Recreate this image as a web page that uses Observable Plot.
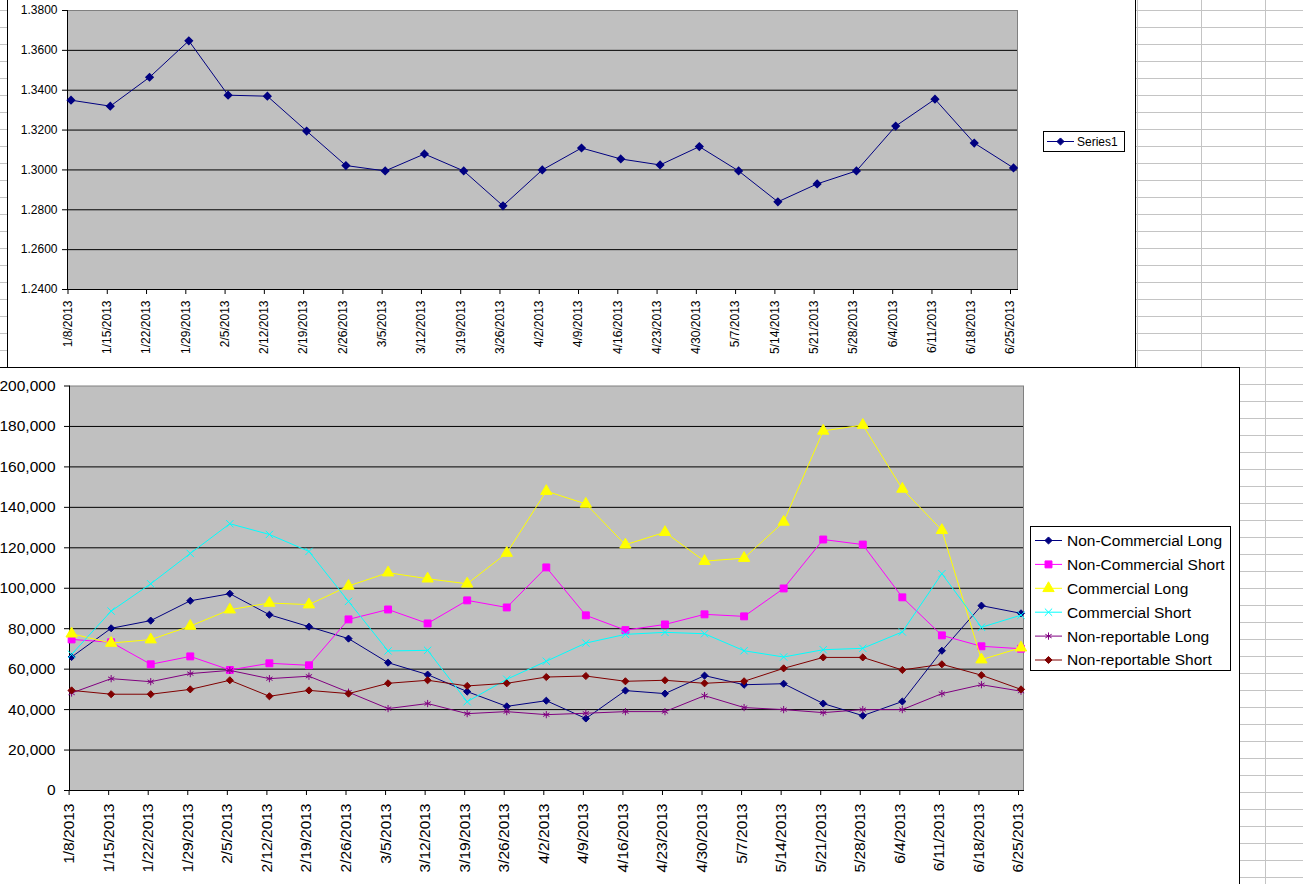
<!DOCTYPE html>
<html>
<head>
<meta charset="utf-8">
<script src="https://cdn.jsdelivr.net/npm/d3@7"></script>
<script src="https://cdn.jsdelivr.net/npm/@observablehq/plot@0.6"></script>
<style>
html,body{margin:0;padding:0;background:#fff;}
#page{position:relative;width:1303px;height:884px;overflow:hidden;font-family:"Liberation Sans",Arial,sans-serif;
  background-image:linear-gradient(to bottom,#c4c4c4 1px,transparent 1px);background-size:100% 17px;background-position:0 10px;}
.vline{position:absolute;top:0;height:884px;width:1px;background:#c4c4c4;}
.box{position:absolute;background:#fff;border:1px solid #000;box-sizing:border-box;}
.plotwrap{position:absolute;}
.legend{position:absolute;background:#fff;border:1px solid #000;box-sizing:border-box;}
</style>
</head>
<body>
<div id="page">
  <div class="vline" style="left:1137px"></div>
  <div class="vline" style="left:1201px"></div>
  <div class="vline" style="left:1265px"></div>
  <div class="box" style="left:7px;top:-1px;width:1129px;height:369px"></div>
  <div class="plotwrap" id="topPlot" style="left:0;top:0"></div>
  <div class="legend" id="topLegend" style="left:1043px;top:131px;width:82px;height:21px"></div>
  <div class="box" style="left:-1px;top:367px;width:1241px;height:540px"></div>
  <div class="plotwrap" id="bottomPlot" style="left:0;top:367px"></div>
  <div class="legend" id="bottomLegend" style="left:1030px;top:526px;width:201px;height:145px"></div>
</div>
<script>
// ---------- data ----------
const dates = ["1/8/2013","1/15/2013","1/22/2013","1/29/2013","2/5/2013","2/12/2013","2/19/2013","2/26/2013",
  "3/5/2013","3/12/2013","3/19/2013","3/26/2013","4/2/2013","4/9/2013","4/16/2013","4/23/2013","4/30/2013",
  "5/7/2013","5/14/2013","5/21/2013","5/28/2013","6/4/2013","6/11/2013","6/18/2013","6/25/2013"];

const series1 = [1.3350,1.3320,1.3465,1.3648,1.3375,1.3370,1.3195,1.3022,1.2995,1.3080,1.2995,1.2820,1.3000,
  1.3110,1.3055,1.3025,1.3117,1.2995,1.2840,1.2930,1.2995,1.3220,1.3355,1.3135,1.3010];

const nonCommercialLong = [66000,80200,84000,93800,97300,86900,81000,75100,63200,57300,48900,41600,44400,
  35600,49400,47900,56800,52300,52800,43000,37000,44000,69100,91400,87600];
const nonCommercialShort = [74700,73300,62400,66300,59600,62900,61900,84600,89500,82600,94000,90500,110300,
  86600,79300,82100,87100,86100,99900,124100,121600,95500,76700,71300,70100];
const commercialLong = [77500,72900,74600,81300,89400,92700,91900,101100,107700,104700,102200,117400,148000,
  141700,121500,127700,113400,114900,132800,177800,180700,149100,128700,64700,70600];
const commercialShort = [67300,88700,102200,117200,131900,126600,118200,93500,69000,69300,43900,55000,63900,
  72900,77200,78200,77500,69100,66000,69600,70300,78400,107200,80700,86700];
const nonReportableLong = [48200,55300,53800,57800,59400,55300,56500,48600,40500,43000,38000,39000,37500,
  38200,39000,39000,46900,41000,40000,38500,40000,40000,47900,52300,49100];
const nonReportableShort = [49500,47600,47600,50000,54500,46600,49500,47900,53000,54500,51700,53000,56100,
  56600,54000,54500,53000,54000,60400,65800,65800,59600,62400,57000,50000];

const topTicks = [1.24,1.26,1.28,1.30,1.32,1.34,1.36,1.38];
const bottomTicks = [0,20000,40000,60000,80000,100000,120000,140000,160000,180000,200000];

const seriesNames = ["Non-Commercial Long","Non-Commercial Short","Commercial Long","Commercial Short","Non-reportable Long","Non-reportable Short"];
const seriesValues = [nonCommercialLong,nonCommercialShort,commercialLong,commercialShort,nonReportableLong,nonReportableShort];

// ---------- styles ----------
const FONT = '"Liberation Sans", Arial, sans-serif';
const seriesStyle = [
  {color:"#000080", symbol:"diamond2", filled:true, r:3.2},
  {color:"#ff00ff", symbol:"square", filled:true, r:3.9},
  {color:"#ffff00", symbol:"triangle", filled:true, r:4.2},
  {color:"#00ffff", symbol:"times", filled:false, r:3.4},
  {color:"#800080", symbol:"asterisk", filled:false, r:3.4},
  {color:"#800000", symbol:"diamond2", filled:true, r:3.2}
];

function dotOpts(st, extra) {
  return Object.assign({symbol: st.symbol, r: st.r, stroke: st.color, strokeWidth: 1,
    fill: st.filled ? st.color : "none"}, extra);
}

// ---------- top chart ----------
const topData = dates.map((d,i)=>({date:d, value:series1[i]}));
const topPlot = Plot.plot({
  width:1040, height:368, marginLeft:67, marginRight:23, marginTop:10, marginBottom:79,
  style:{background:"transparent", fontFamily:FONT, fontSize:"12px", color:"#000", overflow:"visible", maxWidth:"none"},
  x:{type:"point", domain:dates, range:[67.5,1010], padding:0, round:false, label:null},
  y:{domain:[1.24,1.38], label:null},
  marks:[
    Plot.frame({fill:"#c0c0c0", stroke:"#808080"}),
    Plot.ruleY(topTicks.slice(1,-1), {stroke:"#000"}),
    Plot.frame({anchor:"left", stroke:"#000"}),
    Plot.frame({anchor:"bottom", stroke:"#000"}),
    Plot.axisY({ticks:topTicks, tickFormat:d3.format(".4f"), tickSize:5, tickPadding:5, fontSize:12, label:null}),
    Plot.axisX({tickRotate:-90, tickSize:5, tickPadding:6, fontSize:12, label:null}),
    Plot.line(topData, {x:"date", y:"value", stroke:"#000080", strokeWidth:1, dx:3}),
    Plot.dot(topData, {x:"date", y:"value", symbol:"diamond2", fill:"#000080", stroke:"#000080", r:3.2, dx:3})
  ]
});
document.getElementById("topPlot").appendChild(topPlot);

// ---------- bottom chart ----------
const bottomMarks = [
  Plot.frame({fill:"#c0c0c0", stroke:"#808080"}),
  Plot.ruleY(bottomTicks.slice(1,-1), {stroke:"#000"}),
  Plot.frame({anchor:"left", stroke:"#000"}),
  Plot.frame({anchor:"bottom", stroke:"#000"}),
  Plot.axisY({ticks:bottomTicks, tickFormat:d3.format(","), tickSize:5, tickPadding:9, fontSize:15.5, label:null}),
  Plot.axisX({tickRotate:-90, tickSize:5, tickPadding:8, fontSize:15.5, label:null})
];
seriesNames.forEach((name,k)=>{
  const data = dates.map((d,i)=>({date:d, value:seriesValues[k][i]}));
  const st = seriesStyle[k];
  bottomMarks.push(Plot.line(data, {x:"date", y:"value", stroke:st.color, strokeWidth:1, dx:2.5}));
  bottomMarks.push(Plot.dot(data, dotOpts(st, {x:"date", y:"value", dx:2.5})));
});
const bottomPlot = Plot.plot({
  width:1240, height:517, marginLeft:69, marginRight:217, marginTop:18.5, marginBottom:94,
  style:{background:"transparent", fontFamily:FONT, fontSize:"15.5px", color:"#000", overflow:"visible", maxWidth:"none"},
  x:{type:"point", domain:dates, range:[68.6,1018], padding:0, round:false, label:null},
  y:{domain:[0,200000], label:null},
  marks:bottomMarks
});
document.getElementById("bottomPlot").appendChild(bottomPlot);

// ---------- legends ----------
function symbolPath(name, r) {
  const map = {diamond2:d3.symbolDiamond2, square:d3.symbolSquare, triangle:d3.symbolTriangle,
    times:d3.symbolTimes, asterisk:d3.symbolAsterisk};
  return d3.symbol(map[name], Math.PI*r*r)();
}
function legendRow(svg, y, st, x0, x1, label, fontSize, textX) {
  svg.append("line").attr("x1",x0).attr("x2",x1).attr("y1",y).attr("y2",y).attr("stroke",st.color).attr("stroke-width",1);
  svg.append("path").attr("d",symbolPath(st.symbol, st.r)).attr("transform",`translate(${(x0+x1)/2},${y})`)
    .attr("fill", st.filled ? st.color : "none").attr("stroke", st.color).attr("stroke-width",1);
  svg.append("text").attr("x",textX).attr("y",y).attr("dy","0.35em").attr("font-size",fontSize)
    .attr("font-family",FONT).attr("fill","#000").text(label);
}
{
  const svg = d3.select("#topLegend").append("svg").attr("width",80).attr("height",19).style("display","block");
  legendRow(svg, 9.5, {color:"#000080", symbol:"diamond2", filled:true, r:3.2}, 3, 30, "Series1", 12, 33);
}
{
  const svg = d3.select("#bottomLegend").append("svg").attr("width",199).attr("height",143).style("display","block");
  seriesNames.forEach((name,k)=>{
    legendRow(svg, 13.5 + k*23.9, seriesStyle[k], 4, 31, name, 15.5, 36);
  });
}
</script>
</body>
</html>
